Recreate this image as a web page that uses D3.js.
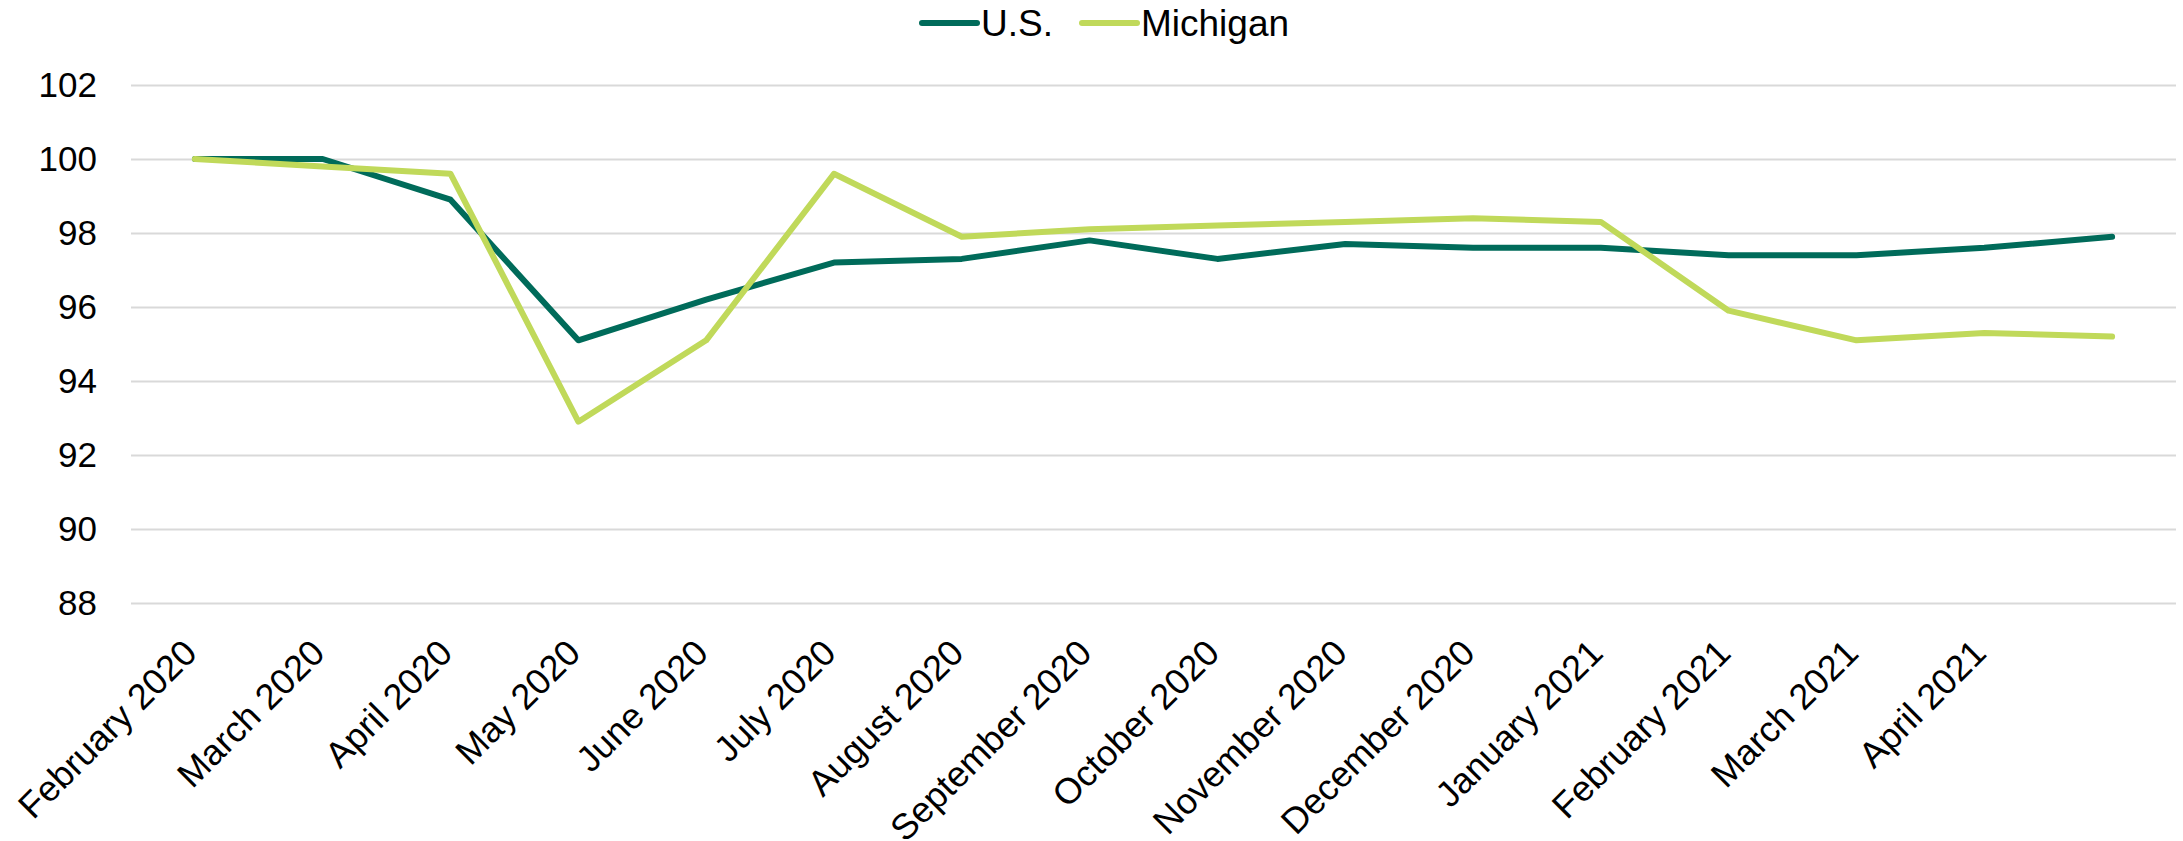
<!DOCTYPE html>
<html>
<head>
<meta charset="utf-8">
<script src="https://cdn.jsdelivr.net/npm/d3@7"></script>
<style>
  body { margin: 0; background: #fff; }
  text { font-family: "Liberation Sans", Arial, sans-serif; fill: #000; }
</style>
</head>
<body>
<script>
// Category labels (the last point has no label on the axis).
var months = ["February 2020", "March 2020", "April 2020", "May 2020", "June 2020",
    "July 2020", "August 2020", "September 2020", "October 2020", "November 2020",
    "December 2020", "January 2021", "February 2021", "March 2021", "April 2021", ""];

// Index values, February 2020 = 100.
var usValues = [100, 100, 98.9, 95.1, 96.2, 97.2, 97.3, 97.8, 97.3, 97.7,
    97.6, 97.6, 97.4, 97.4, 97.6, 97.9];
var michiganValues = [100, 99.8, 99.6, 92.9, 95.1, 99.6, 97.9, 98.1, 98.2, 98.3,
    98.4, 98.3, 95.9, 95.1, 95.3, 95.2];

var yTicks = [88, 90, 92, 94, 96, 98, 100, 102];

var seriesNames = ["U.S.", "Michigan"];
var seriesColors = ["#006b5a", "#c0d95a"];

var width = 2183, height = 841;

var svg = d3.select("body").append("svg")
    .attr("width", width)
    .attr("height", height);

// Scales
var x = d3.scalePoint()
    .domain(d3.range(months.length))
    .range([131, 2176])
    .padding(0.5);

var y = d3.scaleLinear()
    .domain([88, 102])
    .range([603, 85]);

// Gridlines and y labels
var yAxis = svg.append("g")
    .attr("transform", "translate(131,0)")
    .call(d3.axisLeft(y).tickValues(yTicks).tickSize(-(2176 - 131)).tickPadding(34).tickFormat(d3.format("d")));

yAxis.select(".domain").remove();
yAxis.selectAll(".tick line")
    .attr("stroke", "#d9d9d9")
    .attr("stroke-width", 2);
yAxis.selectAll(".tick text")
    .attr("font-size", 35)
    .attr("font-family", "'Liberation Sans', Arial, sans-serif")
    .attr("fill", "#000");

// Rotated category labels
svg.append("g")
    .selectAll("text")
    .data(months)
    .join("text")
    .attr("transform", (d, i) => "translate(" + (x(i) + 4) + ",655) rotate(-45)")
    .attr("text-anchor", "end")
    .attr("font-size", 36)
    .text(d => d);

// Lines
var line = d3.line()
    .x((d, i) => x(i))
    .y(d => y(d));

svg.append("g")
    .selectAll("path")
    .data([usValues, michiganValues])
    .join("path")
    .attr("fill", "none")
    .attr("stroke", (d, i) => seriesColors[i])
    .attr("stroke-width", 6)
    .attr("stroke-linejoin", "round")
    .attr("stroke-linecap", "round")
    .attr("d", line);

// Legend
var legendX = [922, 1082];
var legend = svg.append("g")
    .selectAll("g")
    .data(seriesNames)
    .join("g")
    .attr("transform", (d, i) => "translate(" + legendX[i] + ",23)");

legend.append("line")
    .attr("x1", 0)
    .attr("x2", 55)
    .attr("stroke", (d, i) => seriesColors[i])
    .attr("stroke-width", 6)
    .attr("stroke-linecap", "round");

legend.append("text")
    .attr("x", 59)
    .attr("y", 13)
    .attr("font-size", 37)
    .text(d => d);
</script>
</body>
</html>
